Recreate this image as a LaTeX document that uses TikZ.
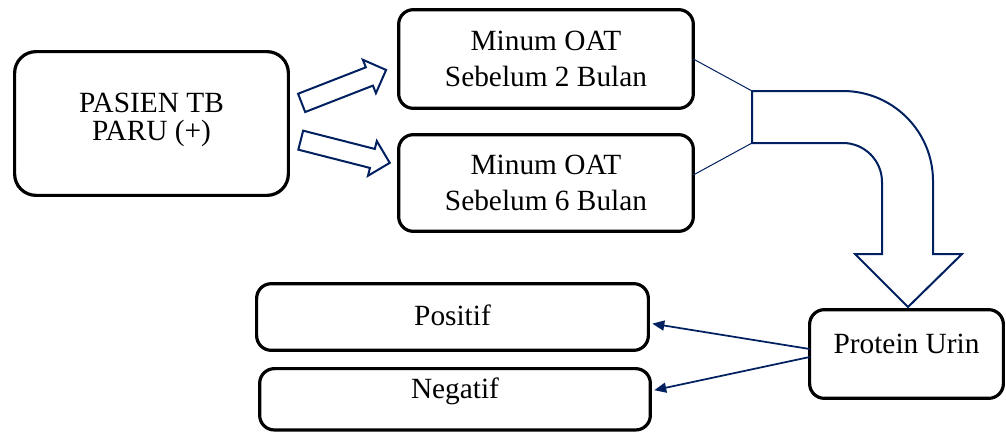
\documentclass[tikz,border=0pt]{standalone}
\usepackage{fontspec}
\setmainfont{Liberation Serif}
\usetikzlibrary{shapes.arrows, arrows.meta}
\definecolor{navy}{RGB}{0,32,96}

\begin{document}
\begin{tikzpicture}[x=0.75pt, y=-0.75pt, inner sep=0, outer sep=0,
  box/.style={rectangle, draw=black, line width=2.4pt, rounded corners=11pt,
    align=center, font=\fontsize{22}{27}\selectfont},
  blockarrow/.style={single arrow, draw=navy, line width=1.5pt,
    inner xsep=0, inner ysep=6.6pt, single arrow head extend=6.1pt},
  link/.style={draw=navy, line width=1.3pt, shorten >=3pt,
    -{Triangle[length=9pt, width=7.5pt]}}]
  \useasboundingbox (0,0) rectangle (1006,432);

  \node[box,
    rounded corners=16pt,
    minimum width=205.3pt,
    minimum height=107.8pt,
    text depth=10.5pt] (pasien) at (151.5,123.5) {PASIEN TB\\[-6pt]PARU (+)};

  \node[box,
    minimum width=221pt,
    minimum height=74pt] (oat2) at (546,59) {Minum OAT\\Sebelum 2 Bulan};
  \node[box,
    minimum width=221pt,
    minimum height=72.5pt] (oat6) at (546,183) {Minum OAT\\Sebelum 6 Bulan};

  \node[box,
    minimum width=293.8pt,
    minimum height=50pt,
    text height=15pt, text depth=3pt] (positif) at (452.5,317) {Positif};
  \node[box,
    minimum width=293pt,
    minimum height=46pt,
    text height=15pt, text depth=16pt] (negatif) at (455,399.3) {Negatif};

  \node[box,
    minimum width=145.3pt,
    minimum height=66.5pt,
    text height=15pt, text depth=16.5pt] (protein) at (906.5,354) {Protein Urin};

  \node[blockarrow, rotate=21.3, minimum height=68pt] (arr1) at (339.3,88.2) {};
  \node[blockarrow, rotate=-14.3, minimum height=68.9pt] (arr2) at (340.5,150.3) {};

  % bent arrow
  \coordinate (bendtop) at (752,91);
  \coordinate (bendbot) at (752,143);
  \draw[navy, line width=1.5pt] (bendtop) -- (843,91)
    .. controls (892.7,91) and (933,131.3) .. (933,181)
    -- (933,254) -- (962,254) -- (908,307) -- (855,254) -- (882,254) -- (882,182)
    .. controls (882,160.5) and (864.5,143) .. (843,143) -- (bendbot) -- cycle;
  \draw[navy, line width=0.75pt] (oat2.east) -- (bendtop);
  \draw[navy, line width=0.75pt] ([yshift=6pt]oat6.east) -- (bendbot);

  \draw[link] ([yshift=3.75pt]protein.west) -- ([yshift=-4.5pt]positif.east);
  \draw[link] ([yshift=-2.25pt]protein.west) -- ([yshift=6.2pt]negatif.east);
\end{tikzpicture}
\end{document}
